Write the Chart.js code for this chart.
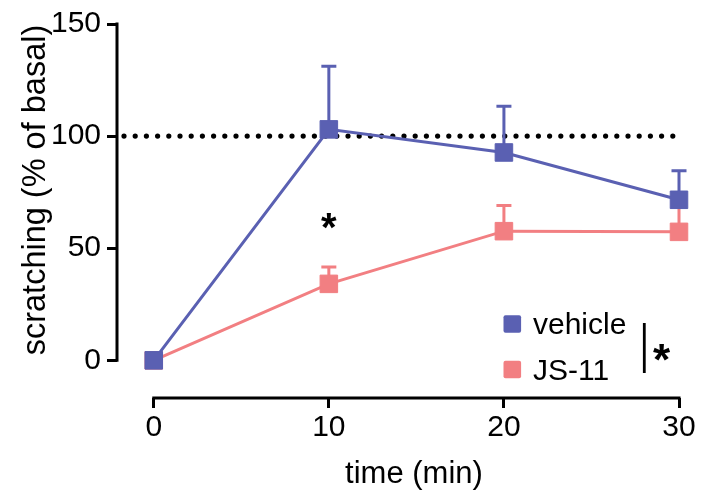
<!DOCTYPE html>
<html>
<head>
<meta charset="utf-8">
<script src="https://cdn.jsdelivr.net/npm/chart.js@4.4.1/dist/chart.umd.min.js"></script>
<style>
  html, body { margin: 0; padding: 0; background: #ffffff; }
  #wrap { width: 701px; height: 493px; }
</style>
</head>
<body>
<div id="wrap"><canvas id="c" width="701" height="493"></canvas></div>
<script>
// ---- data ----
const times = [0, 10, 20, 30];
const vehicle = [0, 103, 92.7, 71.6];
const vehicleErr = [0, 131.2, 113.3, 84.6];   // upper end of error bar
const js11 = [0, 34.1, 57.6, 57.3];
const js11Err = [0, 41.6, 69.1, 69.5];        // upper end of error bar
const xTicks = [0, 10, 20, 30];
const yTicks = [0, 50, 100, 150];
const seriesNames = ['vehicle', 'JS-11'];
const refValue = 100;
const refStart = -1.7;   // minutes (dotted baseline starts left of 0)
const refEnd = 30;
const starAt = { x: 10, y: 62 };  // significance star above 10 min

const BLUE = '#5a60b2';
const PINK = '#f27f82';
const FONT = '"Liberation Sans", Arial, Helvetica, sans-serif';

function drawStar(ctx, x, y, size) {
  ctx.save();
  ctx.font = 'bold ' + size + 'px ' + FONT;
  ctx.textAlign = 'center';
  ctx.textBaseline = 'alphabetic';
  const m = ctx.measureText('*');
  const base = y - (m.actualBoundingBoxDescent - m.actualBoundingBoxAscent) / 2;
  ctx.fillStyle = '#000';
  ctx.fillText('*', x, base);
  ctx.restore();
}

const decor = {
  id: 'decor',
  beforeDatasetsDraw(chart) {
    const ctx = chart.ctx;
    const xs = chart.scales.x, ys = chart.scales.y;
    // dotted reference line
    ctx.save();
    ctx.strokeStyle = '#000';
    ctx.lineWidth = 5.2;
    ctx.lineCap = 'round';
    ctx.setLineDash([0, 11.2]);
    ctx.beginPath();
    const ry = ys.getPixelForValue(refValue);
    ctx.moveTo(xs.getPixelForValue(refStart), ry);
    ctx.lineTo(xs.getPixelForValue(refEnd), ry);
    ctx.stroke();
    ctx.restore();
    // error bars (upper only)
    const sets = [[js11, js11Err, PINK], [vehicle, vehicleErr, BLUE]];
    sets.forEach(([vals, errs, col]) => {
      ctx.save();
      ctx.strokeStyle = col;
      ctx.lineWidth = 3;
      times.forEach((t, i) => {
        if (errs[i] <= vals[i]) return;
        const px = xs.getPixelForValue(t);
        const y0 = ys.getPixelForValue(vals[i]);
        const y1 = ys.getPixelForValue(errs[i]);
        ctx.beginPath();
        ctx.moveTo(px, y0);
        ctx.lineTo(px, y1);
        ctx.moveTo(px - 7.5, y1);
        ctx.lineTo(px + 7.5, y1);
        ctx.stroke();
      });
      ctx.restore();
    });
  },
  afterDraw(chart) {
    const ctx = chart.ctx;
    const xs = chart.scales.x, ys = chart.scales.y;
    const ca = chart.chartArea;
    // axis lines (offset, Prism style)
    ctx.save();
    ctx.strokeStyle = '#000';
    ctx.lineWidth = 3;
    ctx.lineCap = 'butt';
    ctx.beginPath();
    ctx.moveTo(ca.left, ys.getPixelForValue(yTicks[yTicks.length - 1]) - 1.5);
    ctx.lineTo(ca.left, ys.getPixelForValue(yTicks[0]) + 1.5);
    ctx.moveTo(xs.getPixelForValue(xTicks[0]) - 1.5, ca.bottom);
    ctx.lineTo(xs.getPixelForValue(xTicks[xTicks.length - 1]) + 1.5, ca.bottom);
    ctx.stroke();
    ctx.restore();

    // axis titles
    ctx.save();
    ctx.fillStyle = '#000';
    ctx.font = '31px ' + FONT;
    ctx.textAlign = 'center';
    ctx.textBaseline = 'alphabetic';
    ctx.fillText('time (min)', 414, 483);
    ctx.translate(45, 190);
    ctx.rotate(-Math.PI / 2);
    ctx.font = '32.5px ' + FONT;
    ctx.fillText('scratching (% of basal)', 0, 0);
    ctx.restore();

    // star above 10 min
    drawStar(ctx, xs.getPixelForValue(starAt.x), ys.getPixelForValue(starAt.y), 40);

    // legend
    ctx.save();
    const items = [[seriesNames[0], BLUE, 324], [seriesNames[1], PINK, 369.5]];
    ctx.font = '30px ' + FONT;
    ctx.textAlign = 'left';
    ctx.textBaseline = 'alphabetic';
    items.forEach(([name, col, cy]) => {
      ctx.fillStyle = col;
      ctx.beginPath();
      if (ctx.roundRect) ctx.roundRect(503.5, cy - 8.8, 17.6, 17.6, 2);
      else ctx.rect(503.5, cy - 8.8, 17.6, 17.6);
      ctx.fill();
      ctx.fillStyle = '#000';
      ctx.fillText(name, 533, cy + 10);
    });
    ctx.strokeStyle = '#000';
    ctx.lineWidth = 2.8;
    ctx.beginPath();
    ctx.moveTo(644.3, 323);
    ctx.lineTo(644.3, 373);
    ctx.stroke();
    ctx.restore();
    drawStar(ctx, 661.5, 352, 44);
  }
};

const mk = (vals) => times.map((t, i) => ({ x: t, y: vals[i] }));

new Chart(document.getElementById('c'), {
  type: 'line',
  data: {
    datasets: [
      {
        label: seriesNames[0], data: mk(vehicle),
        borderColor: BLUE, backgroundColor: BLUE, borderWidth: 3,
        pointStyle: 'rect', pointRadius: 12.4, pointBorderWidth: 1, pointHoverRadius: 12.4,
        tension: 0, clip: false
      },
      {
        label: seriesNames[1], data: mk(js11),
        borderColor: PINK, backgroundColor: PINK, borderWidth: 3,
        pointStyle: 'rect', pointRadius: 12.4, pointBorderWidth: 1, pointHoverRadius: 12.4,
        tension: 0, clip: false
      }
    ]
  },
  options: {
    responsive: false,
    animation: false,
    events: [],
    layout: { padding: { top: 21.5, right: 22, left: 0, bottom: 0 } },
    plugins: { legend: { display: false }, tooltip: { enabled: false } },
    scales: {
      x: {
        type: 'linear', min: -2.1, max: 30,
        afterBuildTicks: (s) => { s.ticks = xTicks.map(v => ({ value: v })); },
        afterFit: (s) => { s.height = 95; },
        grid: { drawOnChartArea: false, drawTicks: true, tickLength: 10, tickWidth: 3, color: '#000' },
        border: { display: false },
        ticks: { color: '#000', font: { size: 30, family: FONT }, padding: 2, maxRotation: 0, autoSkip: false }
      },
      y: {
        type: 'linear', min: -16.8, max: 150,
        afterBuildTicks: (s) => { s.ticks = yTicks.map(v => ({ value: v })); },
        afterFit: (s) => { s.width = 117; },
        grid: { drawOnChartArea: false, drawTicks: true, tickLength: 10, tickWidth: 3, color: '#000' },
        border: { display: false },
        ticks: { color: '#000', font: { size: 30, family: FONT }, padding: 6, autoSkip: false }
      }
    }
  },
  plugins: [decor]
});
</script>
</body>
</html>
